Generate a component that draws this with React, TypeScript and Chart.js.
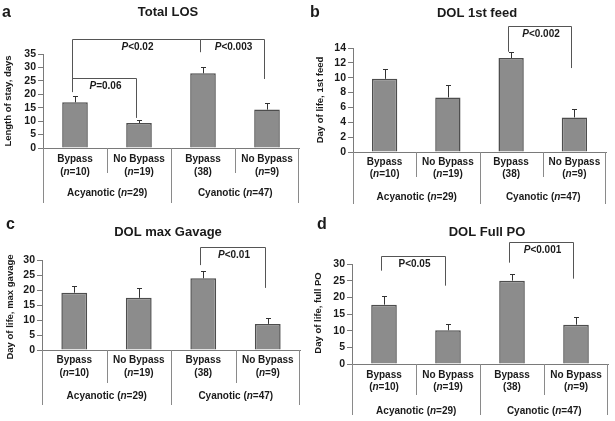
import React, { useEffect, useRef } from "react";
import { Chart, registerables } from "chart.js";
Chart.register(...registerables);

const FONT = "'Liberation Sans', Arial, Helvetica, sans-serif";
const TEXT = "#1a1a1a";

// ---- data ----
const categories = ["Bypass", "No Bypass", "Bypass", "No Bypass"];
const sampleLabels = ["(*n*=10)", "(*n*=19)", "(38)", "(*n*=9)"];
const groupLabels = ["Acyanotic (*n*=29)", "Cyanotic (*n*=47)"];

const losMean = [17.0, 9.3, 27.8, 14.3];
const losErr = [2.4, 1.2, 2.5, 2.5];
const feedMean = [9.85, 7.35, 12.65, 4.65];
const feedErr = [1.35, 1.65, 0.75, 1.2];
const gavageMean = [19.1, 17.4, 23.9, 8.7];
const gavageErr = [2.2, 3.2, 2.5, 1.9];
const fullPoMean = [17.8, 10.1, 25.0, 11.8];
const fullPoErr = [2.5, 2.0, 1.9, 2.3];

// significance brackets: bar indices, top value, leg end values, label
const losBrackets = [
  { from: 0, to: 2, top: 40.6, fromEnd: 25.3, toEnd: 35.7, text: "*P*<0.02" },
  { from: 2, to: 3, top: 40.6, fromEnd: 35.7, toEnd: 25.7, text: "*P*<0.003" },
  { from: 0, to: 1, top: 26.1, fromEnd: 20.8, toEnd: 11.2, text: "*P*=0.06" },
];
const feedBrackets = [
  { from: 2, to: 3, top: 16.9, fromEnd: 13.5, toEnd: 11.3, text: "*P*<0.002" },
];
const gavageBrackets = [
  { from: 2, to: 3, top: 34.2, fromEnd: 28.3, toEnd: 20.7, text: "*P*<0.01" },
];
const fullPoBrackets = [
  { from: 0, to: 1, top: 32.3, fromEnd: 28.0, toEnd: 23.5, text: "P<0.05" },
  { from: 2, to: 3, top: 36.5, fromEnd: 30.4, toEnd: 25.6, text: "*P*<0.001" },
];

const panels = [
  {
    letter: "a", title: "Total LOS", yTitle: "Length of stay, days",
    means: losMean, errs: losErr, max: 35, step: 5, brackets: losBrackets,
    x: 0, y: 0, w: 307, h: 210,
    area: { left: 43, right: 299, top: 54, bottom: 148 },
    letterPos: [2, 13], titlePos: [168, 12], yTitlePos: [8, 101],
    lab1: 11, lab2: 24, grp: 45, sepEnd: 25, grpEnd: 55,
  },
  {
    letter: "b", title: "DOL 1st feed", yTitle: "Day of life, 1st feed",
    means: feedMean, errs: feedErr, max: 14, step: 2, brackets: feedBrackets,
    x: 307, y: 0, w: 308, h: 210,
    area: { left: 46, right: 299, top: 48, bottom: 152 },
    letterPos: [3, 13], titlePos: [170, 13], yTitlePos: [13, 100],
    lab1: 10, lab2: 22, grp: 45, sepEnd: 25, grpEnd: 52,
  },
  {
    letter: "c", title: "DOL max Gavage", yTitle: "Day of life, max gavage",
    means: gavageMean, errs: gavageErr, max: 30, step: 5, brackets: gavageBrackets,
    x: 0, y: 210, w: 307, h: 211,
    area: { left: 42, right: 300, top: 50, bottom: 140 },
    letterPos: [6, 15], titlePos: [168, 22], yTitlePos: [10, 97],
    lab1: 10, lab2: 23, grp: 46, sepEnd: 33, grpEnd: 55,
  },
  {
    letter: "d", title: "DOL Full PO", yTitle: "Day of life, full PO",
    means: fullPoMean, errs: fullPoErr, max: 30, step: 5, brackets: fullPoBrackets,
    x: 307, y: 210, w: 308, h: 211,
    area: { left: 45, right: 301, top: 54, bottom: 154 },
    letterPos: [10, 15], titlePos: [180, 22], yTitlePos: [11, 103],
    lab1: 11, lab2: 23, grp: 47, sepEnd: 31, grpEnd: 51,
  },
];

function fontStr(italic: boolean, size: number) {
  return `${italic ? "italic " : ""}bold ${size}px ${FONT}`;
}

function drawRich(ctx: CanvasRenderingContext2D, text: string, cx: number, cy: number, size: number) {
  const parts = text.split("*");
  const widths = parts.map((p, i) => {
    ctx.font = fontStr(i % 2 === 1, size);
    return ctx.measureText(p).width;
  });
  const total = widths.reduce((a, b) => a + b, 0);
  let x = cx - total / 2;
  ctx.textAlign = "left";
  ctx.textBaseline = "middle";
  parts.forEach((p, i) => {
    ctx.font = fontStr(i % 2 === 1, size);
    ctx.fillText(p, x, cy);
    x += widths[i];
  });
}

function Panel({ cfg }: { cfg: any }) {
  const ref = useRef<HTMLCanvasElement | null>(null);
  useEffect(() => {
    if (!ref.current) return;
    const a = cfg.area;
    const overlay = {
      id: "overlay",
      afterDatasetsDraw(chart: any) {
        const ctx = chart.ctx as CanvasRenderingContext2D;
        const xs = chart.scales.x;
        const ys = chart.scales.y;
        ctx.save();
        // error bars
        ctx.strokeStyle = "#333";
        ctx.lineWidth = 1;
        cfg.means.forEach((m: number, i: number) => {
          const cx = Math.round(xs.getPixelForValue(i)) + 0.5;
          const y0 = ys.getPixelForValue(m);
          const y1 = Math.round(ys.getPixelForValue(m + cfg.errs[i])) + 0.5;
          ctx.beginPath();
          ctx.moveTo(cx, y0);
          ctx.lineTo(cx, y1);
          ctx.moveTo(cx - 2.5, y1);
          ctx.lineTo(cx + 2.5, y1);
          ctx.stroke();
        });
        ctx.restore();
      },
      afterDraw(chart: any) {
        const ctx = chart.ctx as CanvasRenderingContext2D;
        const xs = chart.scales.x;
        const ys = chart.scales.y;
        const ca = chart.chartArea;
        ctx.save();
        ctx.fillStyle = TEXT;
        // panel letter
        ctx.font = `bold 16px ${FONT}`;
        ctx.textAlign = "left";
        ctx.textBaseline = "middle";
        ctx.fillText(cfg.letter, cfg.letterPos[0], cfg.letterPos[1]);
        // title
        ctx.font = `bold 13px ${FONT}`;
        ctx.textAlign = "center";
        ctx.fillText(cfg.title, cfg.titlePos[0], cfg.titlePos[1]);
        // y title
        ctx.save();
        ctx.translate(cfg.yTitlePos[0], cfg.yTitlePos[1]);
        ctx.rotate(-Math.PI / 2);
        ctx.font = `bold 9.5px ${FONT}`;
        ctx.textAlign = "center";
        ctx.textBaseline = "middle";
        ctx.fillText(cfg.yTitle, 0, 0);
        ctx.restore();
        // category labels
        const centers = categories.map((_, i) => xs.getPixelForValue(i));
        categories.forEach((c, i) => {
          drawRich(ctx, c, centers[i], ca.bottom + cfg.lab1, 10);
          drawRich(ctx, sampleLabels[i], centers[i], ca.bottom + cfg.lab2, 10);
        });
        // separators
        ctx.strokeStyle = "#8a8a8a";
        ctx.lineWidth = 1;
        const bounds = [0, 1, 2].map((i) => Math.round((centers[i] + centers[i + 1]) / 2) + 0.5);
        ctx.beginPath();
        [bounds[0], bounds[2]].forEach((bx) => {
          ctx.moveTo(bx, ca.bottom);
          ctx.lineTo(bx, ca.bottom + cfg.sepEnd);
        });
        [Math.round(ca.left) + 0.5, bounds[1], Math.round(ca.right) - 0.5].forEach((bx) => {
          ctx.moveTo(bx, ca.bottom);
          ctx.lineTo(bx, ca.bottom + cfg.grpEnd);
        });
        ctx.stroke();
        // group labels
        drawRich(ctx, groupLabels[0], (ca.left + bounds[1]) / 2, ca.bottom + cfg.grp, 10);
        drawRich(ctx, groupLabels[1], (bounds[1] + ca.right) / 2, ca.bottom + cfg.grp, 10);
        // brackets
        ctx.strokeStyle = "#555";
        ctx.lineWidth = 1;
        cfg.brackets.forEach((b: any) => {
          const x1 = Math.round(centers[b.from] - 3) + 0.5;
          const x2 = Math.round(centers[b.to] - 3) + 0.5;
          const yt = Math.round(ys.getPixelForValue(b.top)) + 0.5;
          const y1 = ys.getPixelForValue(b.fromEnd);
          const y2 = ys.getPixelForValue(b.toEnd);
          ctx.beginPath();
          ctx.moveTo(x1, y1);
          ctx.lineTo(x1, yt);
          ctx.lineTo(x2, yt);
          ctx.lineTo(x2, y2);
          ctx.stroke();
          ctx.fillStyle = TEXT;
          drawRich(ctx, b.text, (x1 + x2) / 2 + 1, yt + 7.5, 10);
        });
        ctx.restore();
      },
    };
    const chart = new Chart(ref.current, {
      type: "bar",
      data: {
        labels: categories,
        datasets: [
          {
            data: cfg.means,
            backgroundColor: "#8c8c8c",
            borderColor: "#4d4d4d",
            borderWidth: 1.5,
            barPercentage: 0.4,
            categoryPercentage: 1,
          },
        ],
      },
      options: {
        animation: false,
        responsive: false,
        maintainAspectRatio: false,
        layout: { padding: { left: 0, top: a.top, right: cfg.w - a.right, bottom: 0 } },
        plugins: { legend: { display: false }, tooltip: { enabled: false }, title: { display: false } },
        scales: {
          x: {
            type: "category",
            grid: { display: false },
            border: { display: true, color: "#7a7a7a", width: 1 },
            ticks: { display: false },
            afterFit: (s: any) => { s.height = cfg.h - a.bottom; },
          },
          y: {
            min: 0,
            max: cfg.max,
            ticks: {
              stepSize: cfg.step,
              autoSkip: false,
              color: TEXT,
              padding: 2,
              font: { family: FONT, size: 10.5, weight: "bold" },
            },
            grid: { display: true, drawOnChartArea: false, drawTicks: true, tickLength: 5, color: "#7a7a7a" },
            border: { display: true, color: "#7a7a7a", width: 1 },
            afterFit: (s: any) => { s.width = a.left; },
          },
        },
      } as any,
      plugins: [overlay],
    });
    return () => chart.destroy();
  }, [cfg]);
  return (
    <div style={{ position: "absolute", left: cfg.x, top: cfg.y, width: cfg.w, height: cfg.h }}>
      <canvas ref={ref} width={cfg.w} height={cfg.h} style={{ width: cfg.w, height: cfg.h, display: "block" }} />
    </div>
  );
}

export default function App() {
  return (
    <div style={{ position: "fixed", left: 0, top: 0, width: 615, height: 421, background: "#fff", overflow: "hidden" }}>
      {panels.map((p) => (
        <Panel key={p.letter} cfg={p} />
      ))}
    </div>
  );
}
